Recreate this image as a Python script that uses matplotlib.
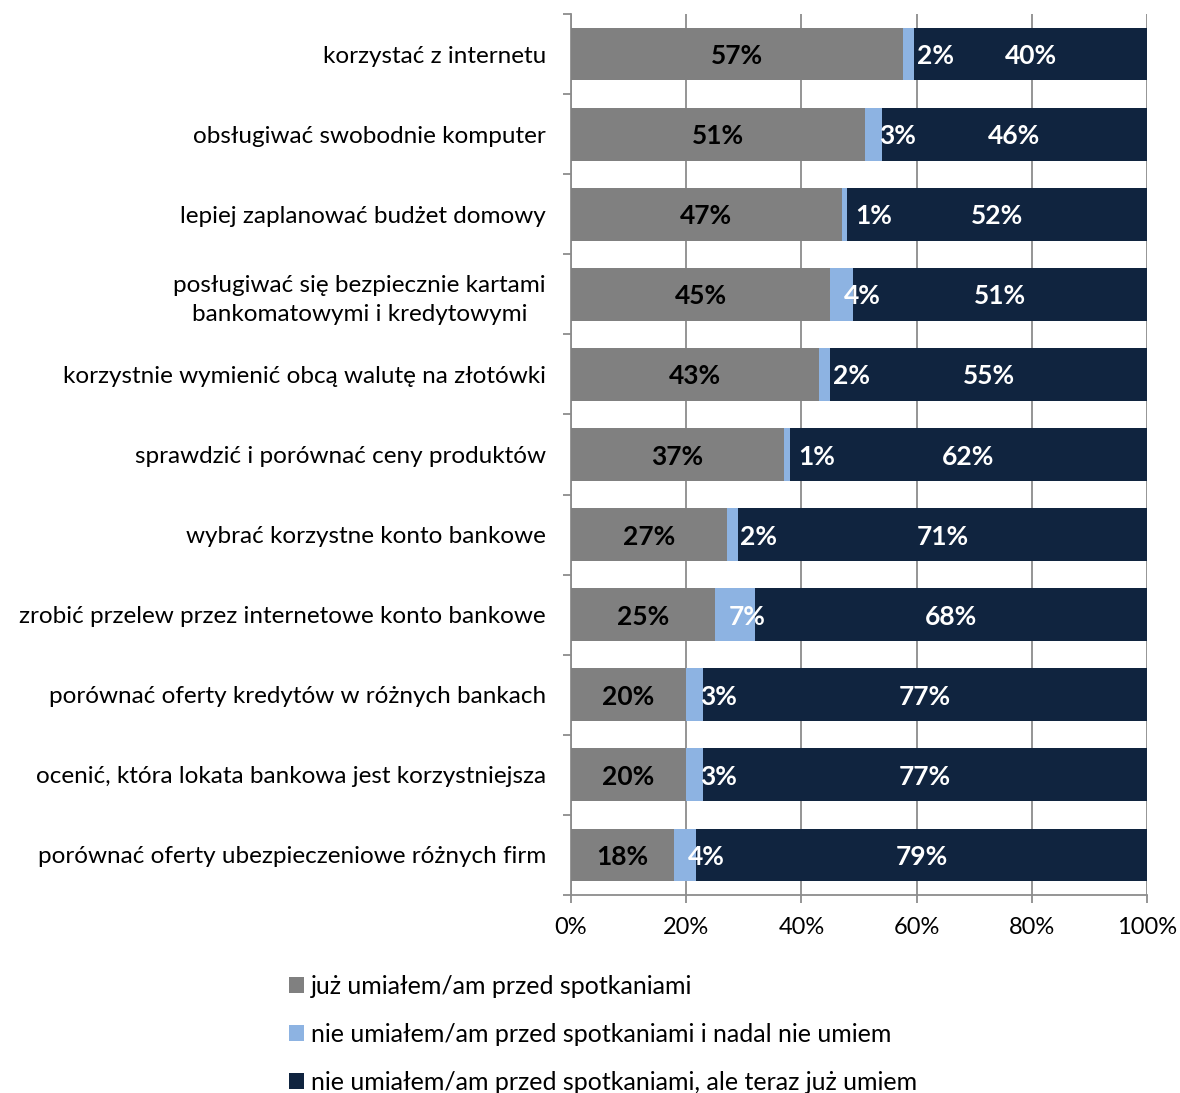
import matplotlib.pyplot as plt
import numpy as np

plt.rcParams['font.family'] = ['Lato', 'DejaVu Sans']

categories = [
    "korzystać z internetu",
    "obsługiwać swobodnie komputer",
    "lepiej zaplanować budżet domowy",
    "posługiwać się bezpiecznie kartami\nbankomatowymi i kredytowymi",
    "korzystnie wymienić obcą walutę na złotówki",
    "sprawdzić i porównać ceny produktów",
    "wybrać korzystne konto bankowe",
    "zrobić przelew przez internetowe konto bankowe",
    "porównać oferty kredytów w różnych bankach",
    "ocenić, która lokata bankowa jest korzystniejsza",
    "porównać oferty ubezpieczeniowe różnych firm",
]
already = [57, 51, 47, 45, 43, 37, 27, 25, 20, 20, 18]
still_not = [2, 3, 1, 4, 2, 1, 2, 7, 3, 3, 4]
learned = [40, 46, 52, 51, 55, 62, 71, 68, 77, 77, 79]

series_names = [
    "już umiałem/am przed spotkaniami",
    "nie umiałem/am przed spotkaniami i nadal nie umiem",
    "nie umiałem/am przed spotkaniami, ale teraz już umiem",
]
colors = ["#808080", "#8DB3E2", "#10243F"]
label_colors = ["black", "white", "white"]

data = np.array([already, still_not, learned], dtype=float)
shares = data / data.sum(axis=0) * 100  # 100% stacked

fig = plt.figure(figsize=(11.8, 10.93), dpi=100)
ax = fig.add_axes([571 / 1180, 1 - 895 / 1093, 576 / 1180, 881 / 1093])

y = np.arange(len(categories))
left = np.zeros(len(categories))
handles = []
for i in range(3):
    bars = ax.barh(y, shares[i], left=left, height=0.66, color=colors[i], zorder=3)
    handles.append(bars)
    for j in range(len(categories)):
        if i == 1:
            # narrow middle segment: label starts just inside its left edge
            pos, ha, dx = left[j], "left", 10
        else:
            pos, ha, dx = left[j] + shares[i][j] / 2, "center", 0
        ax.annotate(f"{int(data[i][j])}%", (pos, y[j]), xytext=(dx, -1.5),
                    textcoords="offset points", ha=ha, va="center",
                    color=label_colors[i], fontsize=19, fontweight="bold", zorder=4)
    left += shares[i]

ax.set_xlim(0, 100)
ax.set_ylim(len(categories) - 0.5, -0.5)
ax.set_xticks(np.arange(0, 101, 20))
ax.set_xticklabels([f"{v}%" for v in range(0, 101, 20)], fontsize=17)
ax.xaxis.grid(True, color="#8C8C8C", linewidth=1.3, zorder=0)
ax.tick_params(axis="x", length=6, width=1.3, color="#8C8C8C", pad=10)

ax.set_yticks(y)
ax.set_yticklabels(categories, fontsize=17.5)
ax.set_yticks(np.arange(-0.5, len(categories), 1), minor=True)
ax.tick_params(axis="y", which="major", length=0, pad=18)
ax.tick_params(axis="y", which="minor", length=6, width=1.3, color="#8C8C8C")
for lbl in ax.get_yticklabels():
    lbl.set_multialignment("center")
    lbl.set_linespacing(1.45)

for s in ["top", "right"]:
    ax.spines[s].set_visible(False)
for s in ["left", "bottom"]:
    ax.spines[s].set_color("#8C8C8C")
    ax.spines[s].set_linewidth(1.3)

fig.legend(handles, series_names, loc="upper left", bbox_to_anchor=(276 / 1180, 1 - 962 / 1093),
           frameon=False, fontsize=18, handlelength=0.6, handleheight=0.6,
           handletextpad=0.3, labelspacing=1.0, borderpad=0)

fig.savefig("out.png", dpi=100)
